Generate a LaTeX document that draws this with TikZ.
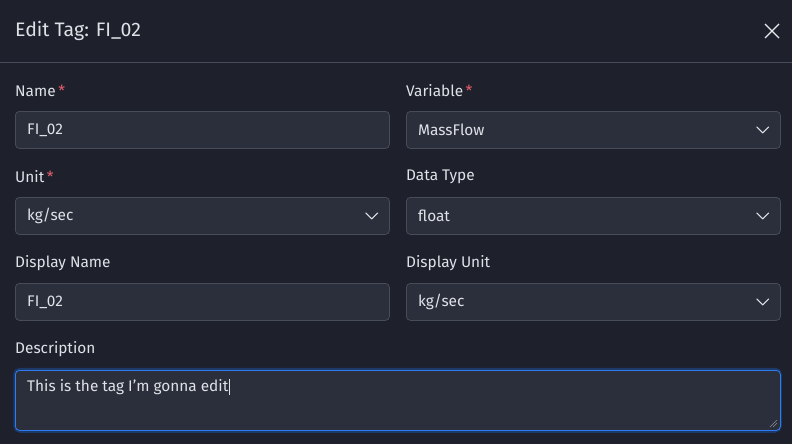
\documentclass[tikz,border=0pt]{standalone}
\usepackage{fontspec}
\setmainfont{Fira Sans}
\usetikzlibrary{positioning}
\definecolor{pagebg}{HTML}{1E202C}
\definecolor{boxbg}{HTML}{2B2F3C}
\definecolor{boxline}{HTML}{474C5A}
\definecolor{txt}{HTML}{DEE2E6}
\definecolor{req}{HTML}{E35D6A}
\definecolor{focus}{HTML}{2F7CF0}
\definecolor{glow}{HTML}{1B3A6A}
\definecolor{grip}{HTML}{8A8F9A}
\tikzset{
  field/.style={draw=boxline, fill=boxbg, rounded corners=4pt, line width=0.8pt,
    minimum width=374pt, minimum height=37pt, anchor=north west, inner sep=0pt},
  label/.style={anchor=west, text=txt, font=\fontsize{15.4pt}{18pt}\selectfont, inner sep=0pt},
  value/.style={anchor=west, text=txt, font=\fontsize{15.4pt}{18pt}\selectfont, inner sep=0pt},
  chev/.style={draw=txt, line width=1.1pt, line cap=round, line join=round}
}
\newcommand{\reqstar}{\textcolor{req}{\,*}}
\begin{document}
\begin{tikzpicture}[x=1pt, y=-1pt]
  \fill[pagebg] (0,0) rectangle (792,444);
  \useasboundingbox (0,0) rectangle (792,444);
  % header
  \node[label, font=\fontsize{19.5pt}{22pt}\selectfont] (title) at (15,31) {Edit Tag: FI\_02};
  \coordinate (xa) at (765,24); \coordinate (xb) at (779,38);
  \coordinate (xc) at (779,24); \coordinate (xd) at (765,38);
  \draw[draw=txt!70, line width=1.2pt] (xa) -- (xb) (xc) -- (xd);
  \coordinate (sepl) at (0,62); \coordinate (sepr) at (792,62);
  \draw[boxline, line width=0.8pt] (sepl) -- (sepr);

  % labels
  \node[label] (lname) at (15,91) {Name\reqstar};
  \node[label] (lvar) at (406,91) {Variable\reqstar};
  \node[label] (lunit) at (15,177) {Unit\reqstar};
  \node[label] (ltype) at (406,177) {Data Type};
  \node[label] (ldname) at (15,263) {Display Name};
  \node[label] (ldunit) at (406,263) {Display Unit};
  \node[label] (ldesc) at (15,349) {Description};

  % fields
  \node[field] (fname) at (15,111) {};
  \node[field] (fvar) at (406,111) {};
  \node[field] (funit) at (15,197) {};
  \node[field] (ftype) at (406,197) {};
  \node[field] (fdname) at (15,283) {};
  \node[field] (fdunit) at (406,283) {};
  \draw[glow, line width=3.5pt, rounded corners=5pt] (15,369.5) rectangle (780,431);
  \node[field, draw=focus, minimum height=60pt, minimum width=765pt] (fdesc) at (15,370) {};

  \node[value] at ([xshift=12pt]fname.west) {FI\_02};
  \node[value] at ([xshift=12pt]fvar.west) {MassFlow};
  \node[value] at ([xshift=12pt]funit.west) {kg/sec};
  \node[value] at ([xshift=12pt]ftype.west) {float};
  \node[value] at ([xshift=12pt]fdname.west) {FI\_02};
  \node[value] at ([xshift=12pt]fdunit.west) {kg/sec};
  \node[value] (dtext) at (27,387) {This is the tag I'm gonna edit};
  \draw[txt, line width=0.6pt] ([xshift=1pt]dtext.north east) -- ([xshift=1pt]dtext.south east);

  % chevrons
  \foreach \f in {fvar, funit, ftype, fdunit}
    \draw[chev] ([xshift=-24pt, yshift=3pt]\f.east) -- ([xshift=-18pt, yshift=-3pt]\f.east) -- ([xshift=-12pt, yshift=3pt]\f.east);
  % resize grip
  \draw[grip, line width=0.6pt] (770,427) -- (777,420) (773,427) -- (777,423);
\end{tikzpicture}
\end{document}
